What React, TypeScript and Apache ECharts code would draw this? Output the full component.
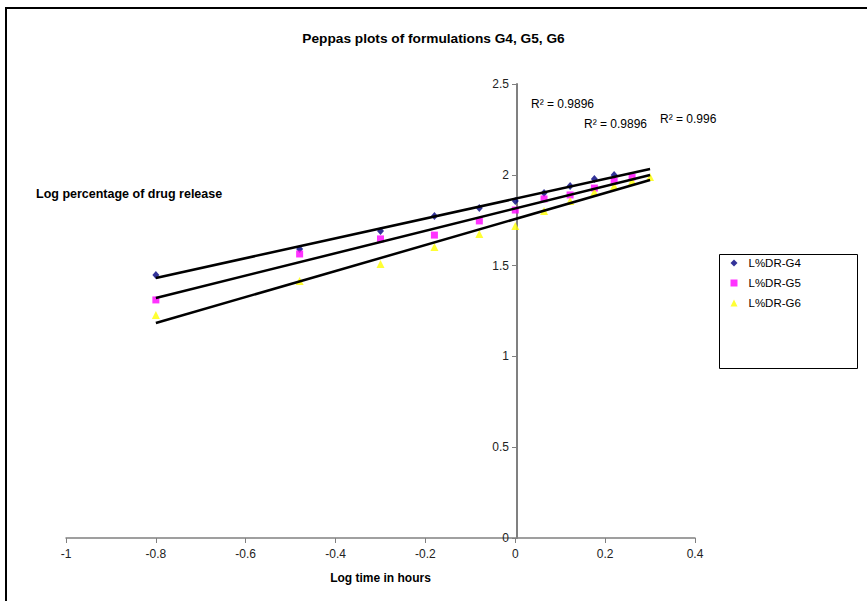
import React, { useEffect, useRef } from "react";
import * as echarts from "echarts";

// Log time (hours) for each formulation
const logTimeG4 = [-0.8, -0.48, -0.3, -0.18, -0.08, 0, 0.064, 0.122, 0.176, 0.22];
const logTimeG5 = [-0.8, -0.48, -0.3, -0.18, -0.08, 0, 0.064, 0.122, 0.176, 0.22, 0.26];
const logTimeG6 = [-0.8, -0.48, -0.3, -0.18, -0.08, 0, 0.064, 0.122, 0.176, 0.22, 0.26, 0.3];

// Log percentage of drug release
const logReleaseG4 = [1.448, 1.591, 1.69, 1.773, 1.817, 1.856, 1.9, 1.938, 1.977, 1.999];
const logReleaseG5 = [1.311, 1.564, 1.647, 1.668, 1.746, 1.806, 1.867, 1.889, 1.927, 1.966, 1.988];
const logReleaseG6 = [1.228, 1.415, 1.509, 1.602, 1.674, 1.718, 1.801, 1.856, 1.905, 1.938, 1.966, 1.988];

// Linear trendlines (endpoints)
const trendX = [-0.8, 0.3];
const trendG4 = [1.432, 2.032];
const trendG5 = [1.322, 1.999];
const trendG6 = [1.184, 1.971];

const seriesNames = ["L%DR-G4", "L%DR-G5", "L%DR-G6"];
const rSquaredLabels = ["R² = 0.9896", "R² = 0.9896", "R² = 0.996"];

const FONT = "'Liberation Sans', Arial, sans-serif";

const pairs = (xs: number[], ys: number[]) => xs.map((x, i) => [x, ys[i]]);

export default function App() {
  const ref = useRef<HTMLDivElement>(null);
  useEffect(() => {
    document.body.style.margin = "0";
    const chart = echarts.init(ref.current!, null, { renderer: "svg" });
    const trendLine = (name: string, ys: number[]) => ({
      name,
      type: "line",
      data: pairs(trendX, ys),
      symbol: "none",
      silent: true,
      lineStyle: { color: "#000", width: 2.5 },
      z: 3,
    });
    chart.setOption({
      animation: false,
      backgroundColor: "#fff",
      textStyle: { fontFamily: FONT },
      title: [
        {
          text: "Peppas plots of formulations G4, G5, G6",
          left: "center",
          top: 31,
          padding: 0,
          textStyle: { fontSize: 13.7, fontWeight: "bold", color: "#000", fontFamily: FONT },
        },
        {
          text: "Log percentage of drug release",
          left: 36,
          top: 187,
          padding: 0,
          textStyle: { fontSize: 12.5, fontWeight: "bold", color: "#000", fontFamily: FONT },
        },
      ],
      grid: { left: 66, right: 172, top: 84, bottom: 63 },
      xAxis: {
        type: "value",
        min: -1,
        max: 0.4,
        interval: 0.2,
        name: "Log time in hours",
        nameLocation: "middle",
        nameGap: 34,
        nameTextStyle: { fontSize: 12, fontWeight: "bold", color: "#000", fontFamily: FONT },
        axisLine: { onZero: false, lineStyle: { color: "#808080", width: 1.5 } },
        axisTick: { show: true, length: 5, lineStyle: { color: "#808080" } },
        axisLabel: { fontSize: 12, color: "#222", margin: 10, fontFamily: FONT },
        splitLine: { show: false },
      },
      yAxis: {
        type: "value",
        min: 0,
        max: 2.5,
        interval: 0.5,
        position: "left",
        offset: -451,
        axisLine: { show: true, onZero: false, lineStyle: { color: "#808080", width: 2 } },
        axisTick: { show: true, length: 5, lineStyle: { color: "#808080" } },
        axisLabel: { fontSize: 12, color: "#222", margin: 8, fontFamily: FONT },
        splitLine: { show: false },
      },
      legend: {
        orient: "vertical",
        left: 730.5,
        top: 257,
        padding: 0,
        itemWidth: 7,
        itemHeight: 7,
        itemGap: 8,
        textStyle: { fontSize: 11.5, color: "#000", fontFamily: FONT, padding: [0, 0, 0, 6] },
        data: [
          { name: seriesNames[0], icon: "diamond" },
          { name: seriesNames[1], icon: "rect" },
          { name: seriesNames[2], icon: "triangle" },
        ],
      },
      graphic: [
        {
          type: "rect",
          shape: { x: 6, y: 8, width: 900, height: 700 },
          style: { fill: "none", stroke: "#000", lineWidth: 2 },
          silent: true,
          z: -1,
        },
        {
          type: "rect",
          shape: { x: 719.5, y: 254.5, width: 138, height: 114 },
          style: { fill: "none", stroke: "#000", lineWidth: 1 },
          silent: true,
        },
        {
          type: "text",
          x: 531,
          y: 98,
          style: { text: rSquaredLabels[0], fontSize: 12, fill: "#000", fontFamily: FONT },
        },
        {
          type: "text",
          x: 584,
          y: 118,
          style: { text: rSquaredLabels[1], fontSize: 12, fill: "#000", fontFamily: FONT },
        },
        {
          type: "text",
          x: 660,
          y: 113,
          style: { text: rSquaredLabels[2], fontSize: 12, fill: "#000", fontFamily: FONT },
        },
      ],
      series: [
        {
          name: seriesNames[0],
          type: "scatter",
          data: pairs(logTimeG4, logReleaseG4),
          symbol: "diamond",
          symbolSize: [7, 8],
          itemStyle: { color: "#000080" },
          z: 2,
        },
        {
          name: seriesNames[1],
          type: "scatter",
          data: pairs(logTimeG5, logReleaseG5),
          symbol: "rect",
          symbolSize: 7,
          itemStyle: { color: "#FF00FF" },
          z: 2,
        },
        {
          name: seriesNames[2],
          type: "scatter",
          data: pairs(logTimeG6, logReleaseG6),
          symbol: "triangle",
          symbolSize: 8,
          itemStyle: { color: "#FFFF00" },
          z: 2,
        },
        trendLine("trend-G4", trendG4),
        trendLine("trend-G5", trendG5),
        trendLine("trend-G6", trendG6),
      ],
    });
    return () => chart.dispose();
  }, []);
  return <div ref={ref} style={{ width: 867, height: 601 }} />;
}
